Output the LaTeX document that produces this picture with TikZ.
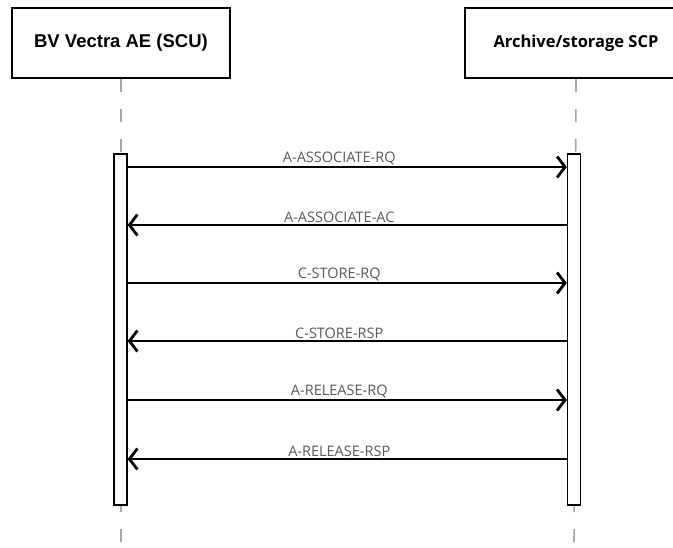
\documentclass[tikz,border=0pt]{standalone}
\usepackage{fontspec}
\setmainfont{Open Sans}
\newfontfamily\headfont{Liberation Sans}
\usetikzlibrary{arrows.meta}
\usetikzlibrary{positioning}

\begin{document}
\begin{tikzpicture}[x=1pt,y=-1pt,
    head node/.style={draw,line width=2pt,minimum height=70pt,inner sep=0pt},
    bar node/.style={draw,line width=1.3pt,fill=white,minimum width=13pt,inner sep=0pt},
    life line/.style={gray!70,line width=1.6pt,dash pattern=on 13pt off 17pt},
    msg/.style={line width=2.4pt,-{Straight Barb[length=8pt,width=21pt,line width=2.8pt]}},
    msg label/.style={font=\fontsize{14.5}{16}\selectfont,text=black!65,inner sep=1pt,above,xshift=-8pt}]
    \useasboundingbox (0,0) rectangle (673,547);
    \begin{scope}
      % lifeline heads
      \node[head node,minimum width=218pt,font=\headfont\bfseries\fontsize{18.5}{20}\selectfont] (scu) at (121,43) {BV Vectra AE (SCU)};
      \node[head node,minimum width=222pt] (scp) at (576,43) {\fontsize{16.5}{18}\selectfont\bfseries Archive/storage SCP};
      % dashed lifelines
      \draw[life line] (scu.south) -- (121,547);
      \draw[life line] (scp.south) -- (574,547);
      % activation bars
      \node[bar node,minimum height=351pt] (lbar) at (120.5,329.5) {};
      \node[bar node,minimum height=351pt] (rbar) at (574,329.5) {};
      % messages
      \draw[msg] (lbar.east |- 0,167) -- node[msg label] (m1) {A-ASSOCIATE-RQ} (rbar.west |- 0,167);
      \draw[msg] (rbar.west |- 0,225) -- node[msg label] (m2) {A-ASSOCIATE-AC} (lbar.east |- 0,225);
      \draw[msg] (lbar.east |- 0,283) -- node[msg label] (m3) {C-STORE-RQ} (rbar.west |- 0,283);
      \draw[msg] (rbar.west |- 0,341) -- node[msg label] (m4) {C-STORE-RSP} (lbar.east |- 0,341);
      \draw[msg] (lbar.east |- 0,400) -- node[msg label] (m5) {A-RELEASE-RQ} (rbar.west |- 0,400);
      \draw[msg] (rbar.west |- 0,459) -- node[msg label] (m6) {A-RELEASE-RSP} (lbar.east |- 0,459);
    \end{scope}
\end{tikzpicture}
\end{document}
